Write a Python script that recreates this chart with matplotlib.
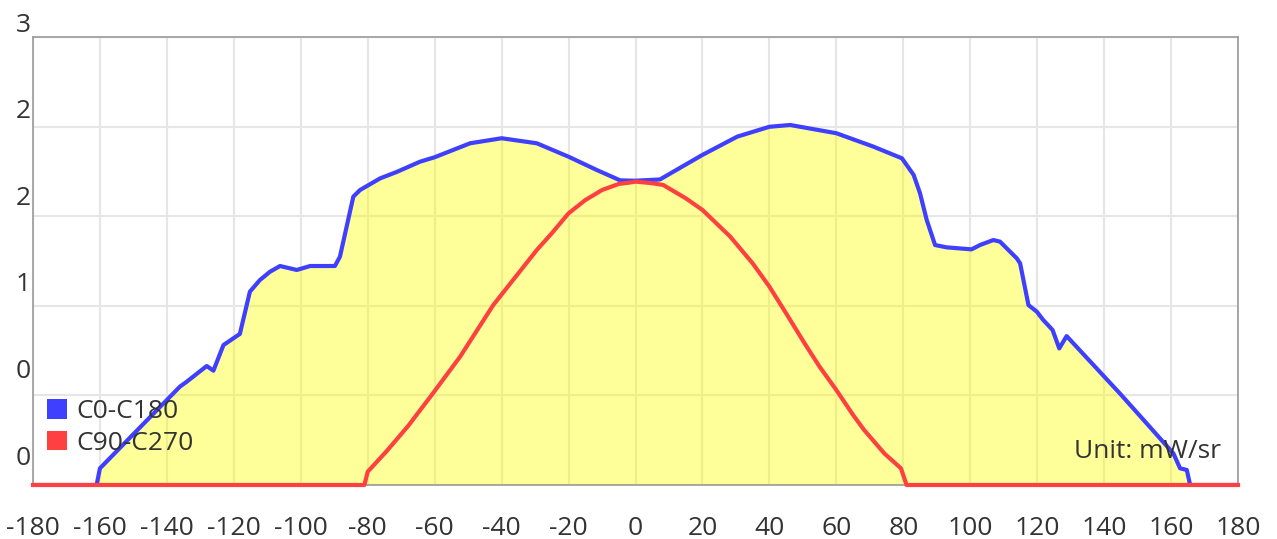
import matplotlib
matplotlib.use("Agg")
import matplotlib.pyplot as plt
from matplotlib.patches import Patch

# angle [deg] / intensity [mW/sr]
blue_deg = [-180, -161, -160, -136.1, -134.1, -128.1, -126.1, -123.1, -118.2, -115.2,
            -112.2, -109.2, -106.2, -101.2, -97.2, -89.8, -88.3, -84.3, -82.3,
            -76.3, -71.2, -64.4, -60, -49.4, -40, -29.5, -20, -11.6, -4.6, 0, 7.3, 20,
            30.4, 40, 46.2, 60, 71.1, 79.6, 83.1, 85, 87, 89.5, 93, 100.4, 102.9, 106.9,
            108.9, 113.9, 114.9, 117.4, 119.9, 121.8, 124.6, 126.6, 128.8, 136.8,
            144.7, 152.7, 160.7, 162.7, 164.7, 165.7, 180]
blue_val = [0, 0, 0.093, 0.549, 0.576, 0.664, 0.638, 0.781, 0.843, 1.079,
            1.144, 1.19, 1.222, 1.2, 1.222, 1.222, 1.274, 1.609, 1.646,
            1.711, 1.748, 1.804, 1.829, 1.907, 1.935, 1.907, 1.832, 1.758, 1.7, 1.698, 1.705, 1.842,
            1.944, 1.999, 2.009, 1.963, 1.888, 1.823, 1.73, 1.628, 1.479, 1.339, 1.326, 1.315, 1.339, 1.367,
            1.358, 1.265, 1.237, 1.004, 0.967, 0.921, 0.865, 0.762, 0.831, 0.67,
            0.511, 0.344, 0.176, 0.093, 0.084, 0, 0]

red_deg = [-180, -81, -80, -74.3, -67.9, -60.9, -52.4, -42.5, -29.5, -25, -20, -15,
           -10, -5, -2, 0, 5, 8.3, 15, 20, 28.3, 35, 40, 45, 50.5, 55, 60, 65, 68.3,
           74.3, 79.3, 81, 180]
red_val = [0, 0, 0.074, 0.19, 0.33, 0.502, 0.716, 1.004, 1.311, 1.405, 1.516, 1.59,
           1.646, 1.68, 1.687, 1.693, 1.684, 1.674, 1.6, 1.535, 1.386, 1.237, 1.107, 0.958, 0.791, 0.66, 0.53, 0.391, 0.307,
           0.177, 0.093, 0, 0]

x_ticks = list(range(-180, 181, 20))
y_ticks = [0, 0.5, 1, 1.5, 2, 2.5]
y_tick_labels = ["0", "0", "1", "2", "2", "3"]
series_names = ["C0-C180", "C90-C270"]

plt.rcParams['font.family'] = ['Open Sans', 'DejaVu Sans']
txt = "#333333"
blue = "#3f3fff"
red = "#ff4040"

fig = plt.figure(figsize=(12.77, 5.39), dpi=100)
ax = fig.add_axes([33/1277, 54/539, 1205/1277, 448/539])

ax.fill_between(blue_deg, blue_val, 0, color="#ffff00", alpha=0.4, lw=0, zorder=2)
ax.plot(blue_deg, blue_val, color=blue, lw=3, zorder=3, solid_joinstyle="round")
ax.plot(red_deg, red_val, color=red, lw=3, zorder=4, clip_on=False, solid_joinstyle="round")

ax.set_xlim(-180, 180)
ax.set_ylim(0, 2.5)
ax.set_xticks(x_ticks)
ax.set_xticklabels([str(v) for v in x_ticks])
ax.set_yticks(y_ticks)
ax.set_yticklabels([])
ax.tick_params(axis="x", length=0, pad=22, labelsize=19, labelcolor=txt)
ax.tick_params(axis="y", length=0)
ax.grid(True, color="#e6e6e6", lw=1.5, zorder=1)
ax.set_axisbelow(True)
for s in ax.spines.values():
    s.set_color("#999999")
    s.set_linewidth(1.2)

# y labels sit slightly off the grid lines in the reference
for i, lab in enumerate(y_tick_labels):
    ax.text(-0.002, 0.060 + i * 0.1933, lab, transform=ax.transAxes,
            ha="right", va="center", fontsize=19, color=txt)

handles = [Patch(facecolor=blue, edgecolor="none"), Patch(facecolor=red, edgecolor="none")]
ax.legend(handles, series_names, loc="upper left", bbox_to_anchor=(0.003, 0.215),
          frameon=False, fontsize=19, labelcolor=txt, handlelength=0.75,
          handleheight=0.75, handletextpad=0.35, labelspacing=0.25, borderaxespad=0)

ax.text(0.9855, 0.075, "Unit: mW/sr", transform=ax.transAxes, ha="right", va="center",
        fontsize=19, color=txt)

fig.savefig("out.png", dpi=100)
